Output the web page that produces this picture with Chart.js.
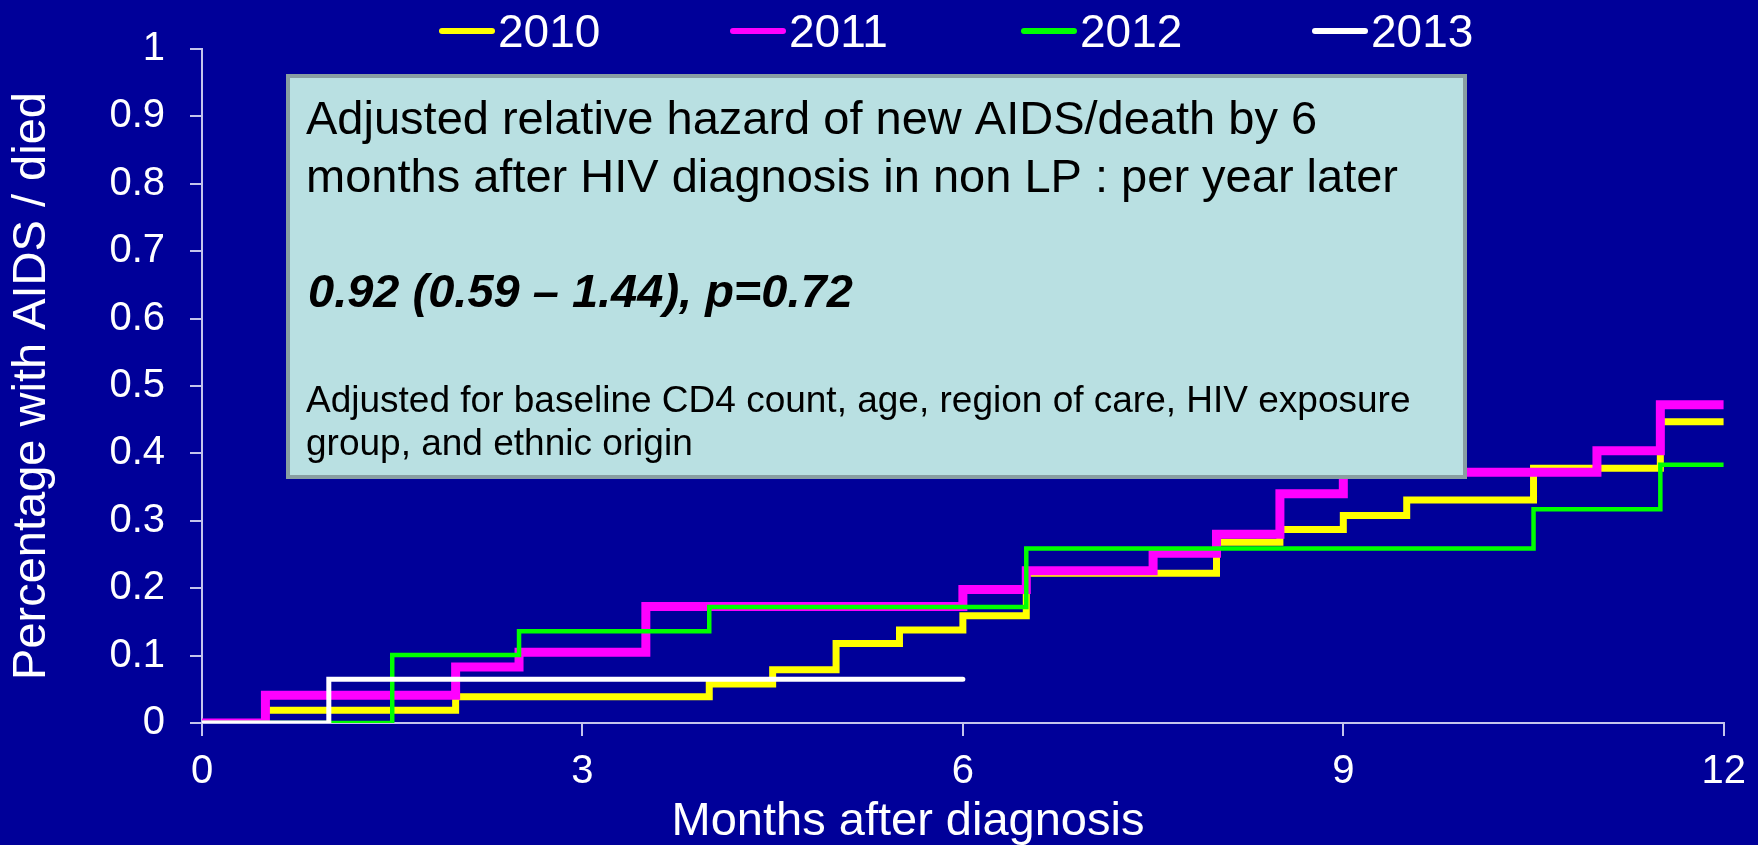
<!DOCTYPE html>
<html>
<head>
<meta charset="utf-8">
<style>
html,body{margin:0;padding:0;background:#000099;overflow:hidden;}
canvas{display:block;}
</style>
<script src="https://cdn.jsdelivr.net/npm/chart.js@4.4.0/dist/chart.umd.min.js"></script>
</head>
<body>
<canvas id="c" width="1758" height="845"></canvas>
<script>
// ---- data ----
const seriesNames = ['2010', '2011', '2012', '2013'];

const months2010 = [0, 0.5, 2, 4, 4.5, 5, 5.5, 6, 6.5, 8, 8.5, 9, 9.5, 10.5, 11.5, 12];
const values2010 = [0, 0.019, 0.039, 0.058, 0.079, 0.118, 0.138, 0.159, 0.222, 0.268, 0.287, 0.308, 0.331, 0.378, 0.447, 0.447];

const months2011 = [0, 0.5, 2, 2.5, 3.5, 6, 6.5, 7.5, 8, 8.5, 9, 11, 11.5, 12];
const values2011 = [0, 0.041, 0.083, 0.105, 0.173, 0.198, 0.226, 0.252, 0.280, 0.340, 0.372, 0.404, 0.472, 0.472];

const months2012 = [0, 1.5, 2.5, 4, 6.5, 10.5, 11.5, 12];
const values2012 = [0, 0.101, 0.136, 0.172, 0.259, 0.317, 0.383, 0.383];

const months2013 = [0, 1, 6];
const values2013 = [0, 0.065, 0.065];

const xTickLabels = ['0', '3', '6', '9', '12'];
const yTickLabels = ['0', '0.1', '0.2', '0.3', '0.4', '0.5', '0.6', '0.7', '0.8', '0.9', '1'];

const xTitle = 'Months after diagnosis';
const yTitle = 'Percentage with AIDS / died';

const noteLines = [
  'Adjusted relative hazard of new AIDS/death by 6',
  'months after HIV diagnosis in non LP : per year later',
  '0.92 (0.59 \u2013 1.44), p=0.72',
  'Adjusted for baseline CD4 count, age, region of care, HIV exposure',
  'group, and ethnic origin'
];

// ---- chart ----
const FONT = '"Liberation Sans", Arial, sans-serif';
const AXIS_COLOR = '#c4c4ec';

function pts(ms, vs) { return ms.map((m, i) => ({ x: m, y: vs[i] })); }

const bgPlugin = {
  id: 'bg',
  beforeDraw(chart) {
    const ctx = chart.ctx;
    ctx.save();
    ctx.fillStyle = '#000099';
    ctx.fillRect(0, 0, chart.width, chart.height);
    ctx.restore();
  }
};

const notePlugin = {
  id: 'note',
  afterDatasetsDraw(chart) {
    const ctx = chart.ctx;
    ctx.save();
    ctx.fillStyle = '#b9e0e2';
    ctx.fillRect(286, 74, 1181, 405);
    ctx.strokeStyle = '#889ea2';
    ctx.lineWidth = 4;
    ctx.strokeRect(288, 76, 1177, 401);
    ctx.fillStyle = '#000000';
    ctx.textAlign = 'left';
    ctx.textBaseline = 'alphabetic';
    ctx.font = '47px ' + FONT;
    ctx.fillText(noteLines[0], 306, 134);
    ctx.fillText(noteLines[1], 306, 192);
    ctx.font = 'italic bold 47px ' + FONT;
    ctx.fillText(noteLines[2], 308, 307);
    ctx.font = '37px ' + FONT;
    ctx.fillText(noteLines[3], 306, 412);
    ctx.fillText(noteLines[4], 306, 455);
    ctx.restore();
  }
};

const legendPlugin = {
  id: 'customLegend',
  afterDraw(chart) {
    const ctx = chart.ctx;
    ctx.save();
    ctx.font = '46px ' + FONT;
    ctx.textAlign = 'left';
    ctx.textBaseline = 'alphabetic';
    let x = 439;
    chart.data.datasets.forEach((ds) => {
      ctx.strokeStyle = ds.borderColor;
      ctx.lineWidth = 6;
      ctx.lineCap = 'round';
      ctx.beginPath();
      ctx.moveTo(x + 3, 31);
      ctx.lineTo(x + 53, 31);
      ctx.stroke();
      ctx.fillStyle = '#ffffff';
      ctx.fillText(ds.label, x + 59, 47);
      x += 291;
    });
    ctx.restore();
  }
};

const xTitlePlugin = {
  id: 'xTitle',
  afterDraw(chart) {
    const ctx = chart.ctx;
    ctx.save();
    ctx.font = '47px ' + FONT;
    ctx.fillStyle = '#ffffff';
    ctx.textAlign = 'center';
    ctx.textBaseline = 'alphabetic';
    ctx.fillText(xTitle, 908, 835);
    ctx.restore();
  }
};

const common = { stepped: 'before', pointRadius: 0, pointHoverRadius: 0, fill: false, tension: 0, borderJoinStyle: 'miter', borderCapStyle: 'butt' };

new Chart(document.getElementById('c'), {
  type: 'line',
  data: {
    datasets: [
      Object.assign({ label: seriesNames[0], data: pts(months2010, values2010), borderColor: '#ffff00', borderWidth: 7, order: 3 }, common),
      Object.assign({ label: seriesNames[1], data: pts(months2011, values2011), borderColor: '#ff00ff', borderWidth: 9, order: 2 }, common),
      Object.assign({ label: seriesNames[2], data: pts(months2012, values2012), borderColor: '#00ff00', borderWidth: 4.5, order: 1 }, common),
      Object.assign({ label: seriesNames[3], data: pts(months2013, values2013), borderColor: '#ffffff', borderWidth: 5, order: 0 }, common, { borderCapStyle: 'round' })
    ]
  },
  options: {
    responsive: false,
    animation: false,
    devicePixelRatio: 1,
    layout: { padding: { top: 43, right: 32, bottom: 0, left: 0 } },
    plugins: { legend: { display: false }, tooltip: { enabled: false }, title: { display: false } },
    scales: {
      x: {
        type: 'linear', min: 0, max: 12,
        ticks: {
          stepSize: 3, color: '#ffffff', font: { family: FONT, size: 40 }, padding: 12,
          maxRotation: 0, autoSkip: false,
          callback: (v, i) => xTickLabels[i]
        },
        grid: { drawOnChartArea: false, drawTicks: true, tickLength: 13, color: AXIS_COLOR, lineWidth: 2 },
        border: { display: true, color: AXIS_COLOR, width: 2 },
        title: { display: false },
        afterFit(s) { s.height = 122; }
      },
      y: {
        type: 'linear', min: 0, max: 1,
        ticks: {
          stepSize: 0.1, color: '#ffffff', font: { family: FONT, size: 40 }, padding: 25,
          callback: (v, i) => yTickLabels[i]
        },
        grid: { drawOnChartArea: false, drawTicks: true, tickLength: 12, color: AXIS_COLOR, lineWidth: 2 },
        border: { display: true, color: AXIS_COLOR, width: 2 },
        title: { display: true, text: yTitle, color: '#ffffff', font: { family: FONT, size: 47 }, padding: { top: 4, bottom: 0 } },
        afterFit(s) { s.width = 202; }
      }
    }
  },
  plugins: [bgPlugin, notePlugin, legendPlugin, xTitlePlugin]
});
</script>
</body>
</html>
